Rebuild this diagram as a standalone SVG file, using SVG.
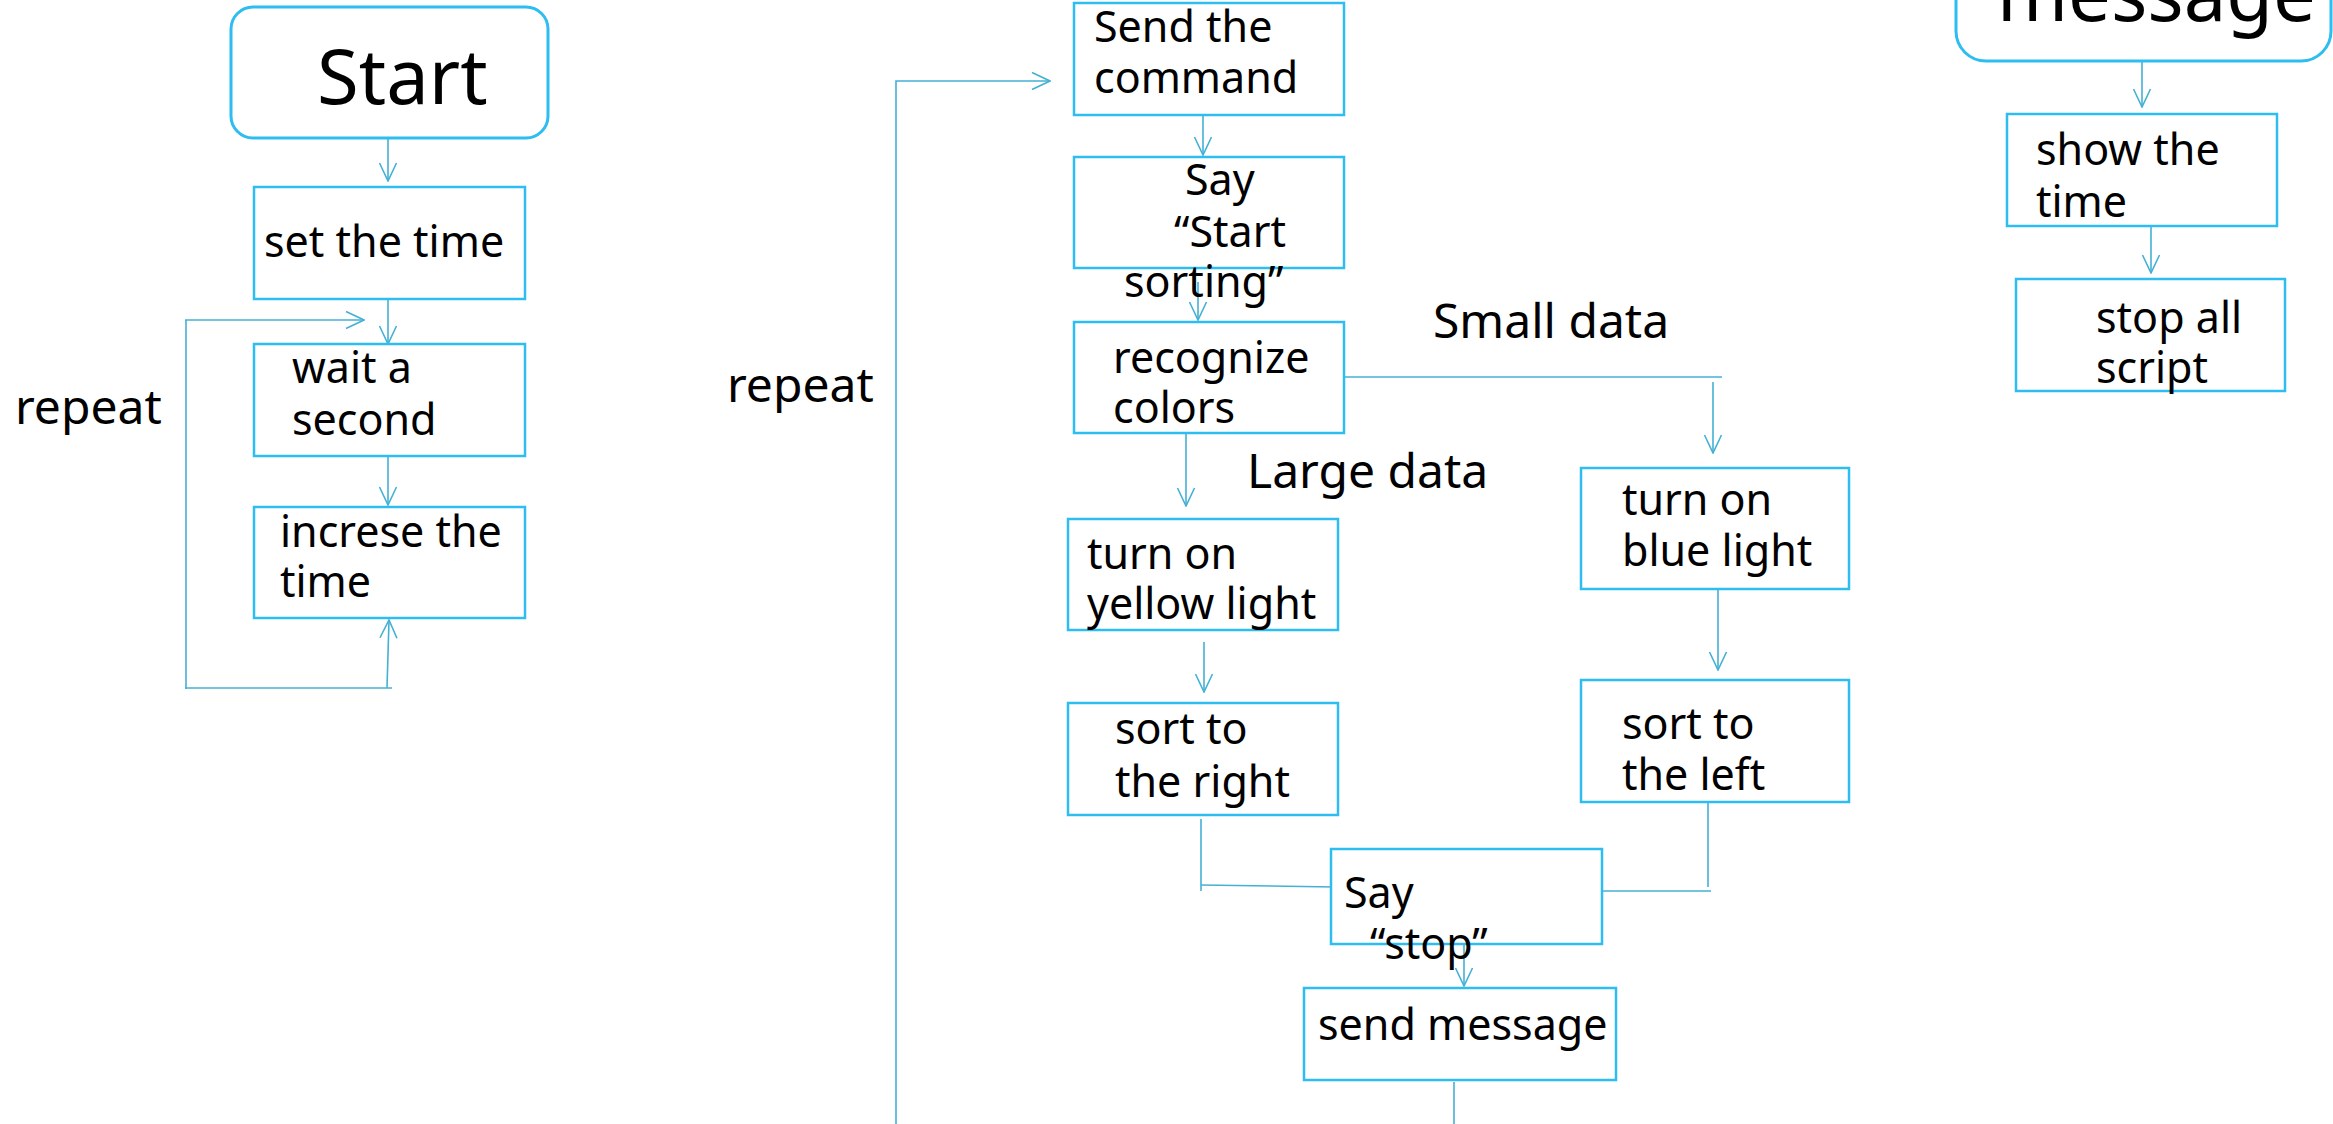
<svg xmlns="http://www.w3.org/2000/svg" width="2333" height="1124" viewBox="0 0 2333 1124">
<defs>
<style>
.box{fill:#fff;stroke:#2ebdf0;stroke-width:2.5}
.term{fill:#fff;stroke:#2ebdf0;stroke-width:3}
.t{font-family:"Noto Sans","Open Sans",sans-serif;font-size:43px;fill:#000}
.lbl{font-family:"Noto Sans","Open Sans",sans-serif;font-size:48px;fill:#000}
.big{font-family:"Noto Sans","Open Sans",sans-serif;font-size:76px;fill:#000}
.c{fill:none;stroke:#45b0d5;stroke-width:1.6}
</style>
<marker id="ah" viewBox="0 0 20 20" refX="19" refY="10" markerWidth="20" markerHeight="20" markerUnits="userSpaceOnUse" orient="auto">
<path d="M1,1.5 L19,10 L1,18.5" fill="none" stroke="#45b0d5" stroke-width="1.6"/>
</marker>
</defs>
<rect width="2333" height="1124" fill="#fff"/>

<g id="connectors">
<path class="c" d="M388,138 L388,181" marker-end="url(#ah)"/>
<path class="c" d="M388,299 L388,344" marker-end="url(#ah)"/>
<path class="c" d="M185,320 L364,320" marker-end="url(#ah)"/>
<path class="c" d="M186,320 L186,689"/>
<path class="c" d="M185,688 L392,688"/>
<path class="c" d="M387,688 L389,620" marker-end="url(#ah)"/>
<path class="c" d="M388,456 L388,505" marker-end="url(#ah)"/>
<path class="c" d="M896,1124 L896,81 L1050,81" marker-end="url(#ah)"/>
<path class="c" d="M1203,108 L1203,155" marker-end="url(#ah)"/>
<path class="c" d="M1198,282 L1198,320" marker-end="url(#ah)"/>
<path class="c" d="M1344,377 L1722,377"/>
<path class="c" d="M1713,382 L1713,453" marker-end="url(#ah)"/>
<path class="c" d="M1186,433 L1186,506" marker-end="url(#ah)"/>
<path class="c" d="M1204,642 L1204,692" marker-end="url(#ah)"/>
<path class="c" d="M1718,589 L1718,670" marker-end="url(#ah)"/>
<path class="c" d="M1201,819 L1201,891"/>
<path class="c" d="M1201,885 L1335,887"/>
<path class="c" d="M1708,802 L1708,887"/>
<path class="c" d="M1602,891 L1711,891"/>
<path class="c" d="M1464,945 L1464,986" marker-end="url(#ah)"/>
<path class="c" d="M1454,1082 L1454,1124"/>
<path class="c" d="M2142,61 L2142,107" marker-end="url(#ah)"/>
<path class="c" d="M2151,226 L2151,273" marker-end="url(#ah)"/>
</g>

<g id="start">
<rect class="term" x="231" y="7" width="317" height="131" rx="22"/>
<text class="big" x="317" y="104">Start</text>
</g>
<g id="set-time">
<rect class="box" x="254" y="187" width="271" height="112"/>
<text class="t" x="264" y="257">set the time</text>
</g>
<g id="wait">
<rect class="box" x="254" y="344" width="271" height="112"/>
<text class="t" x="292" y="383">wait a</text>
<text class="t" x="292" y="435">second</text>
</g>
<g id="increase">
<rect class="box" x="254" y="507" width="271" height="111"/>
<text class="t" x="280" y="547">increse the</text>
<text class="t" x="280" y="597">time</text>
</g>
<g id="repeat-left">
<text class="lbl" x="15" y="424">repeat</text>
</g>

<g id="send-command">
<rect class="box" x="1074" y="3" width="270" height="112"/>
<text class="t" x="1094" y="42">Send the</text>
<text class="t" x="1094" y="93">command</text>
</g>
<g id="repeat-mid">
<text class="lbl" x="727" y="402">repeat</text>
</g>
<g id="say-start">
<rect class="box" x="1074" y="157" width="270" height="111"/>
<text class="t" x="1185" y="195">Say</text>
<text class="t" x="1174" y="247">“Start</text>
<text class="t" x="1124" y="297">sorting”</text>
</g>
<g id="recognize">
<rect class="box" x="1074" y="322" width="270" height="111"/>
<text class="t" x="1113" y="373">recognize</text>
<text class="t" x="1113" y="423">colors</text>
</g>
<g id="small-data">
<text class="lbl" x="1433" y="338">Small data</text>
</g>
<g id="large-data">
<text class="lbl" x="1247" y="488">Large data</text>
</g>
<g id="yellow">
<rect class="box" x="1068" y="519" width="270" height="111"/>
<text class="t" x="1087" y="569">turn on</text>
<text class="t" x="1087" y="619">yellow light</text>
</g>
<g id="sort-right">
<rect class="box" x="1068" y="703" width="270" height="112"/>
<text class="t" x="1115" y="744">sort to</text>
<text class="t" x="1115" y="797">the right</text>
</g>
<g id="blue">
<rect class="box" x="1581" y="468" width="268" height="121"/>
<text class="t" x="1622" y="515">turn on</text>
<text class="t" x="1622" y="566">blue light</text>
</g>
<g id="sort-left">
<rect class="box" x="1581" y="680" width="268" height="122"/>
<text class="t" x="1622" y="739">sort to</text>
<text class="t" x="1622" y="790">the left</text>
</g>
<g id="say-stop">
<rect class="box" x="1331" y="849" width="271" height="95"/>
<text class="t" x="1344" y="908">Say</text>
<text class="t" x="1370" y="959">“stop”</text>
</g>
<g id="send-message">
<rect class="box" x="1304" y="988" width="312" height="92"/>
<text class="t" x="1318" y="1040">send message</text>
</g>

<g id="message">
<rect class="term" x="1956" y="-120" width="375" height="181" rx="30"/>
<text class="big" x="1997" y="21">message</text>
</g>
<g id="show-time">
<rect class="box" x="2007" y="114" width="270" height="112"/>
<text class="t" x="2036" y="165">show the</text>
<text class="t" x="2036" y="217">time</text>
</g>
<g id="stop-all">
<rect class="box" x="2016" y="279" width="269" height="112"/>
<text class="t" x="2096" y="333">stop all</text>
<text class="t" x="2096" y="383">script</text>
</g>
</svg>
